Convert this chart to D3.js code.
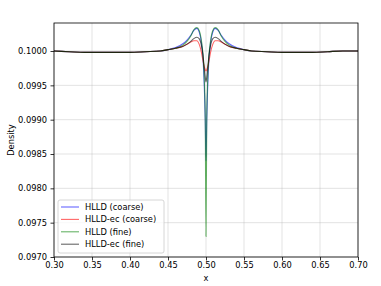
<!DOCTYPE html>
<html>
<head>
<meta charset="utf-8">
<script src="https://cdn.jsdelivr.net/npm/d3@7"></script>
<style>
  body { margin: 0; background: #fff; }
  text { font-family: "DejaVu Sans", sans-serif; }
</style>
</head>
<body>
<div id="chart"></div>
<script>
// sample positions along x
var xs = [0.30, 0.32, 0.34, 0.36, 0.38, 0.40, 0.42, 0.44, 0.45, 0.46, 0.47, 0.475, 0.48, 0.484, 0.488,
          0.491, 0.494, 0.496, 0.498, 0.499, 0.50, 0.501, 0.502, 0.504, 0.506, 0.509, 0.512, 0.516, 0.52,
          0.525, 0.53, 0.54, 0.55, 0.56, 0.58, 0.60, 0.62, 0.64, 0.66, 0.68, 0.70];

var hlldCoarse = [0.10000, 0.09999, 0.09998, 0.09998, 0.09998, 0.09998, 0.09999, 0.10000, 0.10002, 0.10005,
                  0.10011, 0.10016, 0.10023, 0.10030, 0.10033, 0.10028, 0.10012, 0.09990, 0.09940, 0.09900,
                  0.09840, 0.09900, 0.09940, 0.09990, 0.10012, 0.10028, 0.10033, 0.10030, 0.10023, 0.10016,
                  0.10011, 0.10005, 0.10002, 0.10000, 0.09999, 0.09998, 0.09998, 0.09998, 0.09999, 0.10000,
                  0.10000];

var hlldEcCoarse = [0.10000, 0.09999, 0.09998, 0.09998, 0.09998, 0.09998, 0.09999, 0.10000, 0.10002, 0.10004,
                    0.10007, 0.10010, 0.10013, 0.10015, 0.10015, 0.10010, 0.09998, 0.09986, 0.09976, 0.09973,
                    0.09971, 0.09973, 0.09976, 0.09986, 0.09998, 0.10010, 0.10015, 0.10015, 0.10013, 0.10010,
                    0.10007, 0.10004, 0.10002, 0.10000, 0.09999, 0.09998, 0.09998, 0.09998, 0.09999, 0.10000,
                    0.10000];

var hlldFine = [0.10000, 0.09999, 0.09998, 0.09998, 0.09998, 0.09998, 0.09999, 0.10000, 0.10002, 0.10004,
                0.10009, 0.10014, 0.10022, 0.10031, 0.10034, 0.10030, 0.10015, 0.09995, 0.09950, 0.09900,
                0.09730, 0.09900, 0.09950, 0.09995, 0.10015, 0.10030, 0.10034, 0.10031, 0.10022, 0.10014,
                0.10009, 0.10004, 0.10002, 0.10000, 0.09999, 0.09998, 0.09998, 0.09998, 0.09999, 0.10000,
                0.10000];

var hlldEcFine = [0.10000, 0.09999, 0.09998, 0.09998, 0.09998, 0.09998, 0.09999, 0.10000, 0.10002, 0.10004,
                  0.10007, 0.10010, 0.10014, 0.10018, 0.10020, 0.10018, 0.10008, 0.09995, 0.09972, 0.09962,
                  0.09955, 0.09962, 0.09972, 0.09995, 0.10008, 0.10018, 0.10020, 0.10018, 0.10014, 0.10010,
                  0.10007, 0.10004, 0.10002, 0.10000, 0.09999, 0.09998, 0.09998, 0.09998, 0.09999, 0.10000,
                  0.10000];

var seriesNames = ["HLLD (coarse)", "HLLD-ec (coarse)", "HLLD (fine)", "HLLD-ec (fine)"];
var seriesColors = ["#0000ff", "#ff0000", "#008000", "#000000"];
var seriesValues = [hlldCoarse, hlldEcCoarse, hlldFine, hlldEcFine];

var xTicks = [0.30, 0.35, 0.40, 0.45, 0.50, 0.55, 0.60, 0.65, 0.70];
var yTicks = [0.0970, 0.0975, 0.0980, 0.0985, 0.0990, 0.0995, 0.1000];

var width = 381, height = 286;
var margin = {left: 54, right: 23, top: 23, bottom: 29};

var svg = d3.select('#chart').append('svg')
  .attr('width', width).attr('height', height);

var x = d3.scaleLinear().domain([0.3, 0.7]).range([margin.left, width - margin.right]);
var y = d3.scaleLinear().domain([0.097, 0.100408]).range([height - margin.bottom, margin.top]);

// grid
var grid = svg.append('g');
grid.selectAll('.gx').data(xTicks).enter().append('line')
  .attr('x1', function(d) { return x(d); }).attr('x2', function(d) { return x(d); })
  .attr('y1', y.range()[0]).attr('y2', y.range()[1])
  .attr('stroke', '#b0b0b0').attr('stroke-opacity', 0.5).attr('stroke-width', 0.7);
grid.selectAll('.gy').data(yTicks).enter().append('line')
  .attr('y1', function(d) { return y(d); }).attr('y2', function(d) { return y(d); })
  .attr('x1', x.range()[0]).attr('x2', x.range()[1])
  .attr('stroke', '#b0b0b0').attr('stroke-opacity', 0.5).attr('stroke-width', 0.7);

// lines
var line = d3.line()
  .x(function(d, i) { return x(xs[i]); })
  .y(function(d) { return y(d); })
  .curve(d3.curveMonotoneX);

svg.append('defs').append('clipPath').attr('id', 'clip')
  .append('rect').attr('x', margin.left).attr('y', margin.top)
  .attr('width', width - margin.left - margin.right)
  .attr('height', height - margin.top - margin.bottom);

svg.append('g').attr('clip-path', 'url(#clip)')
  .selectAll('path').data(seriesValues).enter().append('path')
  .attr('d', line)
  .attr('fill', 'none')
  .attr('stroke', function(d, i) { return seriesColors[i]; })
  .attr('stroke-opacity', 0.6)
  .attr('stroke-width', 1.1);

// axes
var xAxis = d3.axisBottom(x).tickValues(xTicks).tickFormat(d3.format('.2f')).tickSize(3.5).tickPadding(2);
var yAxis = d3.axisLeft(y).tickValues(yTicks).tickFormat(d3.format('.4f')).tickSize(3.5).tickPadding(3.5);

var gx = svg.append('g').attr('transform', 'translate(0,' + (height - margin.bottom) + ')').call(xAxis);
var gy = svg.append('g').attr('transform', 'translate(' + margin.left + ',0)').call(yAxis);
[gx, gy].forEach(function(g) {
  g.select('.domain').remove();
  g.selectAll('text').attr('font-size', '8.3px').attr('fill', '#000')
    .style('font-family', '"DejaVu Sans", sans-serif');
  g.selectAll('line').attr('stroke', '#000').attr('stroke-width', 0.8);
});

// spines
svg.append('rect')
  .attr('x', margin.left).attr('y', margin.top)
  .attr('width', width - margin.left - margin.right)
  .attr('height', height - margin.top - margin.bottom)
  .attr('fill', 'none').attr('stroke', '#000').attr('stroke-width', 0.8);

// axis labels
svg.append('text').attr('x', x(0.5)).attr('y', height - 5)
  .attr('text-anchor', 'middle').attr('font-size', '8.3px').text('x');
svg.append('text')
  .attr('transform', 'translate(14,' + ((margin.top + height - margin.bottom) / 2) + ') rotate(-90)')
  .attr('text-anchor', 'middle').attr('font-size', '8.3px').text('Density');

// legend
var lg = svg.append('g').attr('transform', 'translate(58,200)');
lg.append('rect').attr('x', 0).attr('y', 0).attr('width', 106).attr('height', 53)
  .attr('rx', 2).attr('fill', '#fff').attr('fill-opacity', 0.8)
  .attr('stroke', '#cccccc').attr('stroke-width', 0.8);
var items = lg.selectAll('.item').data(seriesNames).enter().append('g')
  .attr('transform', function(d, i) { return 'translate(0,' + (7 + i * 12.4) + ')'; });
items.append('line').attr('x1', 3).attr('x2', 21).attr('y1', 0).attr('y2', 0)
  .attr('stroke', function(d, i) { return seriesColors[i]; })
  .attr('stroke-opacity', 0.6).attr('stroke-width', 1.1);
items.append('text').attr('x', 27).attr('y', 3).attr('font-size', '8.3px').text(function(d) { return d; });
</script>
</body>
</html>
